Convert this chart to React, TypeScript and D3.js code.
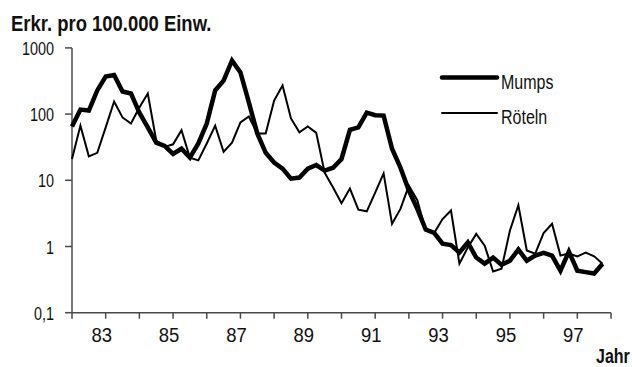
import React, { useEffect, useRef } from 'react';
import * as d3 from 'd3';

// quarterly values, 1982 Q1 .. 1997 Q4 (Erkrankungen pro 100.000 Einw.)
const startYear = 1982;
const mumps = [
  65, 117, 113, 228, 370, 390, 220, 205,
  105, 63, 37, 33, 25, 30, 22, 36,
  72, 228, 320, 645, 425, 150, 51, 26,
  18.6, 15, 10.6, 11, 15, 17, 14, 15.5,
  21, 58, 63, 105, 96, 95, 30, 15.5,
  7, 3.7, 1.8, 1.6, 1.1, 1.05, 0.81, 1.15,
  0.68, 0.55, 0.68, 0.53, 0.61, 0.9, 0.61, 0.73,
  0.8, 0.73, 0.43, 0.84, 0.43, 0.41, 0.39, 0.55,
];
const roeteln = [
  21, 67, 23, 26, 63, 155, 89, 72,
  126, 205, 40, 32, 35, 57, 22, 20,
  36, 67, 27, 37, 75, 92, 51, 51,
  160, 270, 86, 53, 65, 52, 13, 7.8,
  4.5, 7.5, 3.6, 3.4, 6.5, 12.7, 2.2, 3.7,
  8.3, 5, 1.75, 1.6, 2.6, 3.5, 0.55, 0.97,
  1.55, 1.03, 0.42, 0.46, 1.75, 4.2, 0.87, 0.78,
  1.6, 2.2, 0.73, 0.78, 0.71, 0.81, 0.71, 0.55,
];
const yTicks = [0.1, 1, 10, 100, 1000];
const yTickLabels = ['0,1', '1', '10', '100', '1000'];
const xTicks = d3.range(1982, 1999);
const xLabelYears = [1983, 1985, 1987, 1989, 1991, 1993, 1995, 1997];
const xLabels = ['83', '85', '87', '89', '91', '93', '95', '97'];
const seriesNames = ['Mumps', 'Röteln'];

const FONT = '"Liberation Sans", Arial, sans-serif';

function App() {
  const ref = useRef(null);

  useEffect(() => {
    const svg = d3.select(ref.current);
    svg.selectAll('*').remove();

    const x = d3.scaleLinear().domain([1982, 1998]).range([72, 611]);
    const y = d3.scaleLog().domain([0.1, 1000]).range([312.7, 47.9]);

    const axisColor = '#4a4a4a';

    // condensed text helper (no narrow font installed, so squeeze it)
    const label = (tx, ty, str, size, squeeze, anchor = 'start', bold = false) => {
      svg.append('g')
        .attr('transform', `translate(${tx},${ty}) scale(${squeeze},1)`)
        .append('text')
        .attr('text-anchor', anchor)
        .attr('font-family', FONT).attr('font-size', size)
        .attr('font-weight', bold ? 'bold' : 'normal')
        .attr('fill', '#111')
        .text(str);
    };

    // y axis
    svg.append('line')
      .attr('x1', x(1982)).attr('x2', x(1982))
      .attr('y1', y(1000)).attr('y2', y(0.1))
      .attr('stroke', axisColor).attr('stroke-width', 1.5);
    yTicks.forEach((t, i) => {
      svg.append('line')
        .attr('x1', x(1982) - 7).attr('x2', x(1982))
        .attr('y1', y(t)).attr('y2', y(t))
        .attr('stroke', axisColor).attr('stroke-width', 1.5);
      label(54, y(t) + 7, yTickLabels[i], 18, 0.8, 'end');
    });

    // x axis
    svg.append('line')
      .attr('x1', x(1982)).attr('x2', x(1998))
      .attr('y1', y(0.1)).attr('y2', y(0.1))
      .attr('stroke', axisColor).attr('stroke-width', 1.5);
    xTicks.forEach(t => {
      svg.append('line')
        .attr('x1', x(t)).attr('x2', x(t))
        .attr('y1', y(0.1)).attr('y2', y(0.1) + 6)
        .attr('stroke', axisColor).attr('stroke-width', 1.5);
    });
    xLabelYears.forEach((t, i) => {
      label(x(t) - 4, 342, xLabels[i], 21, 0.88, 'middle');
    });

    // lines
    const line = d3.line()
      .x((d, i) => x(startYear + i / 4))
      .y(d => y(d));
    svg.append('path').datum(roeteln)
      .attr('d', line).attr('fill', 'none')
      .attr('stroke', '#000').attr('stroke-width', 2);
    svg.append('path').datum(mumps)
      .attr('d', line).attr('fill', 'none')
      .attr('stroke', '#000').attr('stroke-width', 4.5);

    // legend
    [4.5, 2].forEach((w, i) => {
      const ly = 77.5 + i * 35.5;
      svg.append('line')
        .attr('x1', 442).attr('x2', 497)
        .attr('y1', ly).attr('y2', ly)
        .attr('stroke', '#000').attr('stroke-width', w)
        .attr('stroke-linecap', 'round');
      label(501, ly + 11, seriesNames[i], 20, 0.8);
    });

    // titles
    label(11, 31, 'Erkr. pro 100.000 Einw.', 22, 0.84, 'start', true);
    label(596, 363, 'Jahr', 20, 0.8, 'start', true);
  }, []);

  return (
    <div style={{ position: 'absolute', left: 0, top: 0 }}>
      <svg ref={ref} width={632} height={367} style={{ display: 'block', background: '#fff' }}></svg>
    </div>
  );
}

export default App;
